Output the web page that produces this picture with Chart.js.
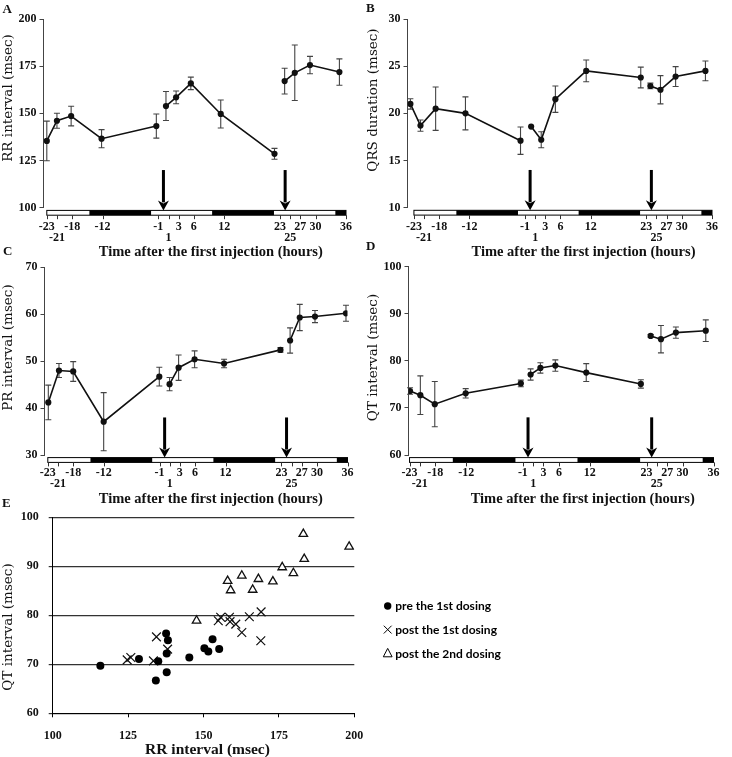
<!DOCTYPE html>
<html>
<head>
<meta charset="utf-8">
<script src="https://cdn.jsdelivr.net/npm/chart.js@4.4.1/dist/chart.umd.min.js"></script>
<style>
  html, body { margin: 0; padding: 0; background: #ffffff; }
  #wrap { position: relative; width: 732px; height: 757px; overflow: hidden; background: #ffffff; }
  #wrap canvas { position: absolute; }
</style>
</head>
<body>
<div id="wrap">
  <canvas id="chartA" width="366" height="262" style="left:0px;top:0px"></canvas>
  <canvas id="chartB" width="366" height="262" style="left:366px;top:0px"></canvas>
  <canvas id="chartC" width="366" height="272" style="left:0px;top:240px"></canvas>
  <canvas id="chartD" width="366" height="272" style="left:366px;top:240px"></canvas>
  <canvas id="chartE" width="732" height="277" style="left:0px;top:480px"></canvas>
</div>
<script>
// ---------------- DATA ----------------
const tickHours = [-23, -21, -18, -12, -1, 1, 3, 6, 12, 23, 25, 27, 30, 36];
const lowerRowTicks = [-21, 1, 25];
const lightDarkEdges = [-23, -14.6, -2.4, 9.6, 21.8, 33.9, 36];
const lightDarkPhases = ['light', 'dark', 'light', 'dark', 'light', 'dark'];
const injectionTimes = [0, 24];
const dosingPhase = [0, 0, 0, 0, 0, 1, 1, 1, 1, 1, 2, 2, 2, 2];

// A: RR interval
const hoursA = [-23, -21, -18.2, -12.2, -1.4, 0.5, 2.5, 5.4, 11.3, 21.9, 23.9, 25.9, 28.9, 34.7];
const rrMean = [135.4, 146.1, 148.6, 136.6, 143.3, 153.9, 158.5, 165.9, 149.7, 128.6, 167.1, 171.5, 175.6, 171.9];
const rrSem  = [10.5, 4.0, 5.2, 4.8, 6.4, 7.7, 3.4, 3.3, 7.4, 2.9, 6.8, 14.7, 4.6, 7.0];

// B: QRS duration
const hoursB = [-23.7, -21.7, -18.7, -12.8, -1.9, 0.2, 2.2, 5.0, 11.1, 21.9, 23.8, 25.8, 28.8, 34.7];
const qrsMean = [21.0, 18.7, 20.5, 20.0, 17.1, 18.6, 17.2, 21.5, 24.5, 23.8, 22.9, 22.5, 23.9, 24.5];
const qrsSem  = [0.55, 0.6, 2.3, 1.75, 1.45, 0, 0.85, 1.4, 1.15, 1.1, 0.3, 1.5, 1.05, 1.05];

// C: PR interval
const hoursC = [-22.9, -20.8, -18.0, -12.0, -1.05, 0.97, 2.75, 5.9, 11.7, 22.8, 24.7, 26.6, 29.6, 35.7];
const prMean = [41.2, 48.0, 47.8, 37.1, 46.7, 45.1, 48.6, 50.4, 49.5, 52.4, 54.4, 59.3, 59.5, 60.2];
const prSem  = [3.7, 1.5, 2.1, 6.2, 2.0, 1.4, 2.7, 1.8, 0.9, 0.5, 2.7, 2.8, 1.3, 1.7];

// D: QT interval
const hoursD = [-22.9, -20.9, -18.1, -12.1, -1.4, 0.5, 2.4, 5.3, 11.3, 21.9, 23.8, 25.8, 28.7, 34.5];
const qtMean = [73.6, 72.7, 70.8, 73.1, 75.2, 77.1, 78.5, 79.0, 77.5, 75.1, 85.3, 84.6, 86.0, 86.4];
const qtSem  = [0.7, 4.1, 4.8, 1.0, 0.7, 1.2, 1.1, 1.2, 1.9, 0.9, 0.3, 2.9, 1.2, 2.3];

// E: QT vs RR scatter  [RR, QT]
const scatterPre = [[115.8, 69.7], [128.6, 71.1], [135.0, 70.6], [134.2, 66.7], [137.6, 76.3], [138.2, 74.9],
  [137.8, 72.2], [137.8, 68.4], [145.3, 71.4], [150.3, 73.3], [151.6, 72.6], [153.0, 75.1], [155.2, 73.1]];
const scatterPost1 = [[124.7, 70.9], [125.9, 71.4], [133.4, 70.7], [134.4, 75.6], [138.1, 73.1], [154.9, 78.9],
  [155.7, 79.6], [158.6, 79.6], [158.8, 78.7], [160.7, 78.2], [162.7, 76.5], [165.2, 79.7], [169.1, 80.7], [169.0, 74.8]];
const scatterPost2 = [[147.7, 78.9], [158.0, 87.0], [159.0, 85.1], [162.7, 88.1], [166.3, 85.2], [168.2, 87.4],
  [173.0, 86.9], [176.1, 89.8], [179.8, 88.6], [183.1, 96.6], [183.4, 91.5], [198.3, 94.0]];
const legendLabels = ['pre the 1st dosing', 'post the 1st dosing', 'post the 2nd dosing'];

const timeTitle = 'Time after the first injection (hours)';

// ---------------- PLUGINS ----------------
const errorBarPlugin = {
  id: 'errorBars',
  beforeDatasetsDraw(chart, args, o) {
    if (!o.sem) return;
    const ctx = chart.ctx, ys = chart.scales.y;
    const meta = chart.getDatasetMeta(0);
    const pts = chart.data.datasets[0].data;
    ctx.save();
    ctx.strokeStyle = o.color; ctx.lineWidth = o.lineWidth;
    meta.data.forEach((el, i) => {
      const e = o.sem[i];
      if (!e) return;
      const x = el.x;
      const yHi = ys.getPixelForValue(pts[i].y + e);
      const yLo = ys.getPixelForValue(pts[i].y - e);
      ctx.beginPath();
      ctx.moveTo(x, yHi); ctx.lineTo(x, yLo);
      ctx.moveTo(x - o.cap, yHi); ctx.lineTo(x + o.cap, yHi);
      ctx.moveTo(x - o.cap, yLo); ctx.lineTo(x + o.cap, yLo);
      ctx.stroke();
    });
    ctx.restore();
  }
};

const timeAxisPlugin = {
  id: 'timeAxis',
  afterDraw(chart, args, o) {
    const ctx = chart.ctx, ca = chart.chartArea, xs = chart.scales.x;
    const top = ca.bottom + o.barGap, h = o.barHeight;
    ctx.save();
    for (let i = 0; i < lightDarkPhases.length; i++) {
      const a = xs.getPixelForValue(lightDarkEdges[i]);
      const b = xs.getPixelForValue(lightDarkEdges[i + 1]);
      ctx.fillStyle = lightDarkPhases[i] === 'dark' ? '#000' : '#fff';
      ctx.fillRect(a, top, b - a, h);
    }
    const x0 = xs.getPixelForValue(lightDarkEdges[0]);
    const x1 = xs.getPixelForValue(lightDarkEdges[lightDarkEdges.length - 1]);
    ctx.strokeStyle = '#000'; ctx.lineWidth = 1;
    ctx.strokeRect(x0, top, x1 - x0, h);
    ctx.strokeStyle = '#333';
    ctx.beginPath();
    tickHours.forEach(v => {
      const x = Math.round(xs.getPixelForValue(v)) + 0.5;
      ctx.moveTo(x, top + h); ctx.lineTo(x, top + h + o.tickLen);
    });
    ctx.stroke();
    ctx.fillStyle = '#000'; ctx.strokeStyle = '#000';
    injectionTimes.forEach(t => {
      const x = xs.getPixelForValue(t);
      const yTop = ca.bottom - o.arrowFrac * ca.height;
      const yTip = top;
      ctx.lineWidth = o.shaft;
      ctx.beginPath(); ctx.moveTo(x, yTop); ctx.lineTo(x, yTip - o.headLen + 2); ctx.stroke();
      ctx.beginPath();
      ctx.moveTo(x - o.headHalf, yTip - o.headLen);
      ctx.lineTo(x, yTip - o.headLen + 3);
      ctx.lineTo(x + o.headHalf, yTip - o.headLen);
      ctx.lineTo(x, yTip);
      ctx.closePath(); ctx.fill();
    });
    ctx.restore();
  }
};

const panelTextPlugin = {
  id: 'panelText',
  afterDraw(chart, args, o) {
    const ctx = chart.ctx;
    ctx.save();
    ctx.fillStyle = '#111';
    ctx.textBaseline = 'middle';
    ctx.font = o.letterFont; ctx.textAlign = 'left';
    ctx.fillText(o.letter, o.letterX, o.letterY);
    ctx.font = o.xTitleFont; ctx.textAlign = 'center';
    ctx.fillText(o.xTitle, o.xTitleX, o.xTitleY);
    ctx.translate(o.yTitleX, o.yTitleY);
    ctx.rotate(-Math.PI / 2);
    ctx.font = o.yTitleFont; ctx.textAlign = 'center';
    ctx.fillText(o.yTitle, 0, 0);
    ctx.restore();
  }
};

const dosingLegendPlugin = {
  id: 'dosingLegend',
  afterDraw(chart, args, o) {
    const ctx = chart.ctx;
    ctx.save();
    chart.data.datasets.forEach((ds, i) => {
      const y = o.y0 + i * o.rowGap, x = o.markerX;
      ctx.strokeStyle = '#000'; ctx.fillStyle = '#000'; ctx.lineWidth = 1;
      if (ds.pointStyle === 'circle') {
        ctx.beginPath(); ctx.arc(x, y, 3.7, 0, Math.PI * 2); ctx.fill();
      } else if (ds.pointStyle === 'crossRot') {
        const r = 3.9;
        ctx.beginPath();
        ctx.moveTo(x - r, y - r); ctx.lineTo(x + r, y + r);
        ctx.moveTo(x - r, y + r); ctx.lineTo(x + r, y - r);
        ctx.stroke();
      } else {
        ctx.beginPath();
        ctx.moveTo(x, y - 4.8); ctx.lineTo(x + 4.4, y + 3.6); ctx.lineTo(x - 4.4, y + 3.6);
        ctx.closePath(); ctx.stroke();
      }
      ctx.font = o.font; ctx.textAlign = 'left'; ctx.textBaseline = 'middle';
      ctx.fillText(ds.label, o.textX, y + 0.5);
    });
    ctx.restore();
  }
};

// ---------------- STYLE ----------------
const tickFont = { family: "'Liberation Serif', serif", weight: 'bold', size: 12, lineHeight: 0.92 };
const letterFont = "bold 13px 'Liberation Serif', serif";
const xTitleFont = "bold 14.5px 'Liberation Serif', serif";
const yTitleFont = "13.5px 'DejaVu Serif', serif";

function timeChart(id, p) {
  const pts = p.hours.map((h, i) => ({ x: h, y: p.mean[i] }));
  return new Chart(document.getElementById(id), {
    type: 'line',
    data: {
      datasets: [{
        data: pts,
        borderColor: '#111',
        borderWidth: 1.6,
        pointRadius: 3.1,
        pointHoverRadius: 3.1,
        pointBackgroundColor: '#111',
        pointBorderColor: '#111',
        pointBorderWidth: 0,
        tension: 0,
        segment: {
          borderColor: c => dosingPhase[c.p0DataIndex] === dosingPhase[c.p1DataIndex] ? '#111' : 'rgba(0,0,0,0)'
        }
      }]
    },
    options: {
      responsive: false,
      animation: false,
      events: [],
      layout: { padding: { left: 0, right: p.padRight, top: p.padTop, bottom: p.padBottom } },
      scales: {
        x: {
          type: 'linear', min: p.xMin, max: 36,
          afterBuildTicks: s => { s.ticks = tickHours.map(v => ({ value: v })); },
          afterFit: s => { s.height = 40; },
          grid: { display: false, drawTicks: false, tickLength: 0 },
          border: { display: false },
          ticks: {
            autoSkip: false, maxRotation: 0, minRotation: 0, padding: p.xTickPad, color: '#111', font: tickFont,
            callback: v => lowerRowTicks.includes(v) ? ['', String(v)] : String(v)
          }
        },
        y: {
          type: 'linear', min: p.yMin, max: p.yMax,
          afterFit: s => { s.width = p.yAxisWidth; },
          grid: { display: true, drawOnChartArea: false, tickLength: 4, color: '#444', lineWidth: 1 },
          border: { display: true, color: '#444', width: 1 },
          ticks: { stepSize: p.yStep, padding: 3, color: '#111', font: { family: "'Liberation Serif', serif", weight: 'bold', size: 12 } }
        }
      },
      plugins: {
        legend: { display: false },
        tooltip: { enabled: false },
        errorBars: { sem: p.sem, color: '#444', lineWidth: 1.1, cap: 3 },
        timeAxis: { barGap: 2.6, barHeight: 4.8, tickLen: 4, arrowFrac: 0.2, shaft: 3, headHalf: 5.5, headLen: 10 },
        panelText: {
          letter: p.letter, letterX: p.letterX, letterY: p.letterY, letterFont,
          xTitle: timeTitle, xTitleX: p.xTitleX, xTitleY: p.xTitleY, xTitleFont,
          yTitle: p.yTitle, yTitleX: p.yTitleX, yTitleY: p.yTitleY, yTitleFont
        }
      }
    },
    plugins: [errorBarPlugin, timeAxisPlugin, panelTextPlugin]
  });
}

timeChart('chartA', {
  hours: hoursA, mean: rrMean, sem: rrSem, yMin: 100, yMax: 200, yStep: 25, xMin: -23.65,
  yAxisWidth: 43.5, padRight: 8.3, padTop: 19, padBottom: 14.2, xTickPad: 14,
  letter: 'A', letterX: 2.5, letterY: 9.5, xTitleX: 210.8, xTitleY: 252.7,
  yTitle: 'RR interval (msec)', yTitleX: 8.8, yTitleY: 98
});
timeChart('chartB', {
  hours: hoursB, mean: qrsMean, sem: qrsSem, yMin: 10, yMax: 30, yStep: 5, xMin: -24.27,
  yAxisWidth: 41.5, padRight: 8.3, padTop: 19, padBottom: 14.3, xTickPad: 14,
  letter: 'B', letterX: 0, letterY: 9, xTitleX: 217.5, xTitleY: 252.7,
  yTitle: 'QRS duration (msec)', yTitleX: 7, yTitleY: 100
});
timeChart('chartC', {
  hours: hoursC, mean: prMean, sem: prSem, yMin: 30, yMax: 70, yStep: 10, xMin: -23.65,
  yAxisWidth: 44.5, padRight: 8.3, padTop: 27.3, padBottom: 17, xTickPad: 12.5,
  letter: 'C', letterX: 3, letterY: 12, xTitleX: 210.8, xTitleY: 259,
  yTitle: 'PR interval (msec)', yTitleX: 8.3, yTitleY: 107.6
});
timeChart('chartD', {
  hours: hoursD, mean: qtMean, sem: qtSem, yMin: 60, yMax: 100, yStep: 10, xMin: -23.2,
  yAxisWidth: 42.5, padRight: 11, padTop: 26.7, padBottom: 17, xTickPad: 12.5,
  letter: 'D', letterX: 0, letterY: 7, xTitleX: 216.7, xTitleY: 259,
  yTitle: 'QT interval (msec)', yTitleX: 7, yTitleY: 117.5
});

new Chart(document.getElementById('chartE'), {
  type: 'scatter',
  data: {
    datasets: [
      { label: legendLabels[0], data: scatterPre.map(([x, y]) => ({ x, y })), pointStyle: 'circle',
        pointRadius: 4, pointHoverRadius: 4, backgroundColor: '#000', borderColor: '#000', borderWidth: 0 },
      { label: legendLabels[1], data: scatterPost1.map(([x, y]) => ({ x, y })), pointStyle: 'crossRot',
        pointRadius: 6.2, pointHoverRadius: 6.2, backgroundColor: '#000', borderColor: '#111', borderWidth: 1.2 },
      { label: legendLabels[2], data: scatterPost2.map(([x, y]) => ({ x, y })), pointStyle: 'triangle',
        pointRadius: 4.9, pointHoverRadius: 4.9, backgroundColor: '#fff', borderColor: '#111', borderWidth: 1.3 }
    ]
  },
  options: {
    responsive: false,
    animation: false,
    events: [],
    layout: { padding: { left: 0, right: 377.7, top: 37.3, bottom: 3.7 } },
    scales: {
      x: {
        type: 'linear', min: 100, max: 200,
        afterFit: s => { s.height = 40; },
        grid: { display: true, drawOnChartArea: false, tickLength: 4, color: '#000' },
        border: { display: true, color: '#000', width: 1 },
        ticks: { stepSize: 25, padding: 11, color: '#111', font: { family: "'Liberation Serif', serif", weight: 'bold', size: 12 } }
      },
      y: {
        type: 'linear', min: 60, max: 100,
        afterFit: s => { s.width = 52.7; },
        grid: { display: true, color: '#333', lineWidth: 1.2, tickLength: 4 },
        border: { display: true, color: '#000', width: 1 },
        ticks: { stepSize: 10, padding: 10, color: '#111', font: { family: "'Liberation Serif', serif", weight: 'bold', size: 12 } }
      }
    },
    plugins: {
      legend: { display: false },
      tooltip: { enabled: false },
      dosingLegend: { markerX: 387.7, textX: 395.3, y0: 126, rowGap: 23.6, font: "bold 12px Lato, sans-serif" },
      panelText: {
        letter: 'E', letterX: 2, letterY: 24, letterFont,
        xTitle: 'RR interval (msec)', xTitleX: 207.5, xTitleY: 270, xTitleFont: "bold 15.5px 'Liberation Serif', serif",
        yTitle: 'QT interval (msec)', yTitleX: 8.3, yTitleY: 147, yTitleFont
      }
    }
  },
  plugins: [dosingLegendPlugin, panelTextPlugin]
});
</script>
</body>
</html>
